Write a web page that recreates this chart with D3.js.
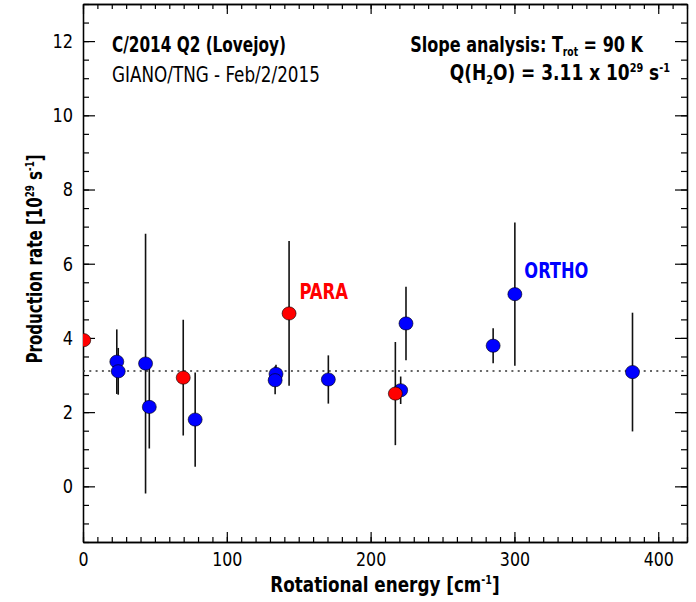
<!DOCTYPE html>
<html>
<head>
<meta charset="utf-8">
<script src="https://cdn.jsdelivr.net/npm/d3@7"></script>
<style>
  body { margin: 0; background: #fff; }
  svg text { font-family: "Liberation Sans Narrow", "DejaVu Sans Condensed", sans-serif; }
</style>
</head>
<body>
<div id="root"></div>
<script>
// ortho points (blue)
const orthoE = [23.5, 24.5, 43.5, 46.1, 78.0, 134.2, 133.6, 170.6, 220.9, 224.6, 285.2, 300.3, 382.1];
const orthoQ = [3.36, 3.10, 3.31, 2.14, 1.80, 3.03, 2.86, 2.88, 2.59, 4.39, 3.79, 5.18, 3.08];
const orthoErr = [0.87, 0.63, 3.50, 1.12, 1.27, 0.25, 0.38, 0.65, 0.37, 0.99, 0.47, 1.93, 1.60];
// para points (red)
const paraE = [0.5, 69.7, 143.3, 217.2];
const paraQ = [3.94, 2.93, 4.66, 2.50];
const paraErr = [0, 1.56, 1.95, 1.39];
const meanQ = 3.11;
const xTicks = [0, 100, 200, 300, 400];
const yTicks = [0, 2, 4, 6, 8, 10, 12];

const width = 696, height = 602;
const margin = { left: 83, right: 9, top: 4, bottom: 60 };

const svg = d3.select("#root").append("svg")
  .attr("width", width)
  .attr("height", height);

const x = d3.scaleLinear().domain([0, 420]).range([margin.left, width - margin.right]);
const y = d3.scaleLinear().domain([-1.5, 13]).range([height - margin.bottom, margin.top]);

svg.append("defs").append("clipPath").attr("id", "clip")
  .append("rect")
  .attr("x", margin.left).attr("y", margin.top)
  .attr("width", width - margin.left - margin.right)
  .attr("height", height - margin.top - margin.bottom);

const xMinor = d3.range(0, 421, 10);
const yMinor = d3.range(-1.5, 13.01, 0.5);

function styleAxis(g) {
  g.select(".domain").attr("stroke", "#000").attr("stroke-width", 1.3);
  g.selectAll(".tick line").attr("stroke", "#000").attr("stroke-width", 1.2);
  g.selectAll(".tick text").attr("font-size", 20).attr("fill", "#000")
    .style("font-family", '"Liberation Sans Narrow", "DejaVu Sans Condensed", sans-serif');
}

// squeeze tick labels a bit, the original uses a condensed face
function squeezeTicks(g, sx) {
  g.selectAll(".tick text").each(function () {
    const t = d3.select(this);
    const tx = +t.attr("x") || 0;
    t.attr("transform", `translate(${tx},0) scale(${sx},1)`).attr("x", 0);
  });
}

// bottom
svg.append("g").attr("transform", `translate(0,${y(-1.5)})`)
  .call(d3.axisBottom(x).tickValues(xMinor).tickFormat("").tickSizeInner(-5).tickSizeOuter(0))
  .call(styleAxis);
svg.append("g").attr("transform", `translate(0,${y(-1.5)})`)
  .call(d3.axisBottom(x).tickValues(xTicks).tickSizeInner(-10).tickSizeOuter(0).tickPadding(10))
  .call(styleAxis)
  .call(g => squeezeTicks(g, 0.88));
// top
svg.append("g").attr("transform", `translate(0,${y(13)})`)
  .call(d3.axisTop(x).tickValues(xMinor).tickFormat("").tickSizeInner(-5).tickSizeOuter(0))
  .call(styleAxis);
svg.append("g").attr("transform", `translate(0,${y(13)})`)
  .call(d3.axisTop(x).tickValues(xTicks).tickFormat("").tickSizeInner(-10).tickSizeOuter(0))
  .call(styleAxis);
// left
svg.append("g").attr("transform", `translate(${x(0)},0)`)
  .call(d3.axisLeft(y).tickValues(yMinor).tickFormat("").tickSizeInner(-6).tickSizeOuter(0))
  .call(styleAxis);
svg.append("g").attr("transform", `translate(${x(0)},0)`)
  .call(d3.axisLeft(y).tickValues(yTicks).tickSizeInner(-12).tickSizeOuter(0).tickPadding(10))
  .call(styleAxis)
  .call(g => squeezeTicks(g, 0.9));
// right
svg.append("g").attr("transform", `translate(${x(420)},0)`)
  .call(d3.axisRight(y).tickValues(yMinor).tickFormat("").tickSizeInner(-6).tickSizeOuter(0))
  .call(styleAxis);
svg.append("g").attr("transform", `translate(${x(420)},0)`)
  .call(d3.axisRight(y).tickValues(yTicks).tickFormat("").tickSizeInner(-12).tickSizeOuter(0))
  .call(styleAxis);

const plot = svg.append("g").attr("clip-path", "url(#clip)");

plot.append("line")
  .attr("x1", x(0)).attr("x2", x(420))
  .attr("y1", y(meanQ)).attr("y2", y(meanQ))
  .attr("stroke", "#333").attr("stroke-width", 1.5)
  .attr("stroke-dasharray", "2,4.3");

function drawSeries(E, Q, err, color) {
  const data = E.map((e, i) => ({ e, q: Q[i], err: err[i] }));
  plot.append("g").selectAll("line")
    .data(data.filter(d => d.err > 0))
    .join("line")
      .attr("x1", d => x(d.e)).attr("x2", d => x(d.e))
      .attr("y1", d => y(d.q - d.err)).attr("y2", d => y(d.q + d.err))
      .attr("stroke", "#111").attr("stroke-width", 1.6);
  plot.append("g").selectAll("ellipse")
    .data(data)
    .join("ellipse")
      .attr("cx", d => x(d.e)).attr("cy", d => y(d.q))
      .attr("rx", 7).attr("ry", 6.6)
      .attr("fill", color)
      .attr("stroke", "#000").attr("stroke-width", 0.6);
}

drawSeries(orthoE, orthoQ, orthoErr, "#0000ff");
drawSeries(paraE, paraQ, paraErr, "#ff0000");

// text helper: positioned group, horizontally squeezed
function label(px, py, sx, opts = {}) {
  const g = svg.append("g").attr("transform", `translate(${px},${py}) scale(${sx},1)`);
  return g.append("text")
    .attr("font-size", opts.size || 21)
    .attr("font-weight", opts.bold ? "bold" : "normal")
    .attr("fill", opts.fill || "#000")
    .attr("text-anchor", opts.anchor || "start");
}
function sub(t, s, dy) {
  t.append("tspan").attr("font-size", 12).attr("dy", dy).text(s);
}

label(x(150.5), y(5.06), 0.87, { bold: true, fill: "#ff0000" }).text("PARA");
label(x(306.9), y(5.62), 0.86, { bold: true, fill: "#0000ff" }).text("ORTHO");

label(112, 52, 0.81, { bold: true }).text("C/2014 Q2 (Lovejoy)");
label(112, 82, 0.89).text("GIANO/TNG - Feb/2/2015");

const t1 = label(643, 52, 0.85, { bold: true, anchor: "end" });
t1.append("tspan").text("Slope analysis: T");
sub(t1, "rot", 4);
t1.append("tspan").attr("dy", -4).text(" = 90 K");

const t2 = label(670, 80, 0.9, { bold: true, anchor: "end" });
t2.append("tspan").text("Q(H");
sub(t2, "2", 4);
t2.append("tspan").attr("dy", -4).text("O) = 3.11 x 10");
sub(t2, "29", -8);
t2.append("tspan").attr("dy", 8).text(" s");
sub(t2, "-1", -8);

// axis titles
const xt = label((x(0) + x(420)) / 2, 592, 0.89, { bold: true, anchor: "middle" });
xt.append("tspan").text("Rotational energy [cm");
sub(xt, "-1", -8);
xt.append("tspan").attr("dy", 8).text("]");

const yg = svg.append("g").attr("transform", "translate(42,259) rotate(-90) scale(0.8,1)");
const yt = yg.append("text")
  .attr("font-size", 21).attr("font-weight", "bold").attr("text-anchor", "middle");
yt.append("tspan").text("Production rate [10");
sub(yt, "29", -8);
yt.append("tspan").attr("dy", 8).text(" s");
sub(yt, "-1", -8);
yt.append("tspan").attr("dy", 8).text("]");
</script>
</body>
</html>
